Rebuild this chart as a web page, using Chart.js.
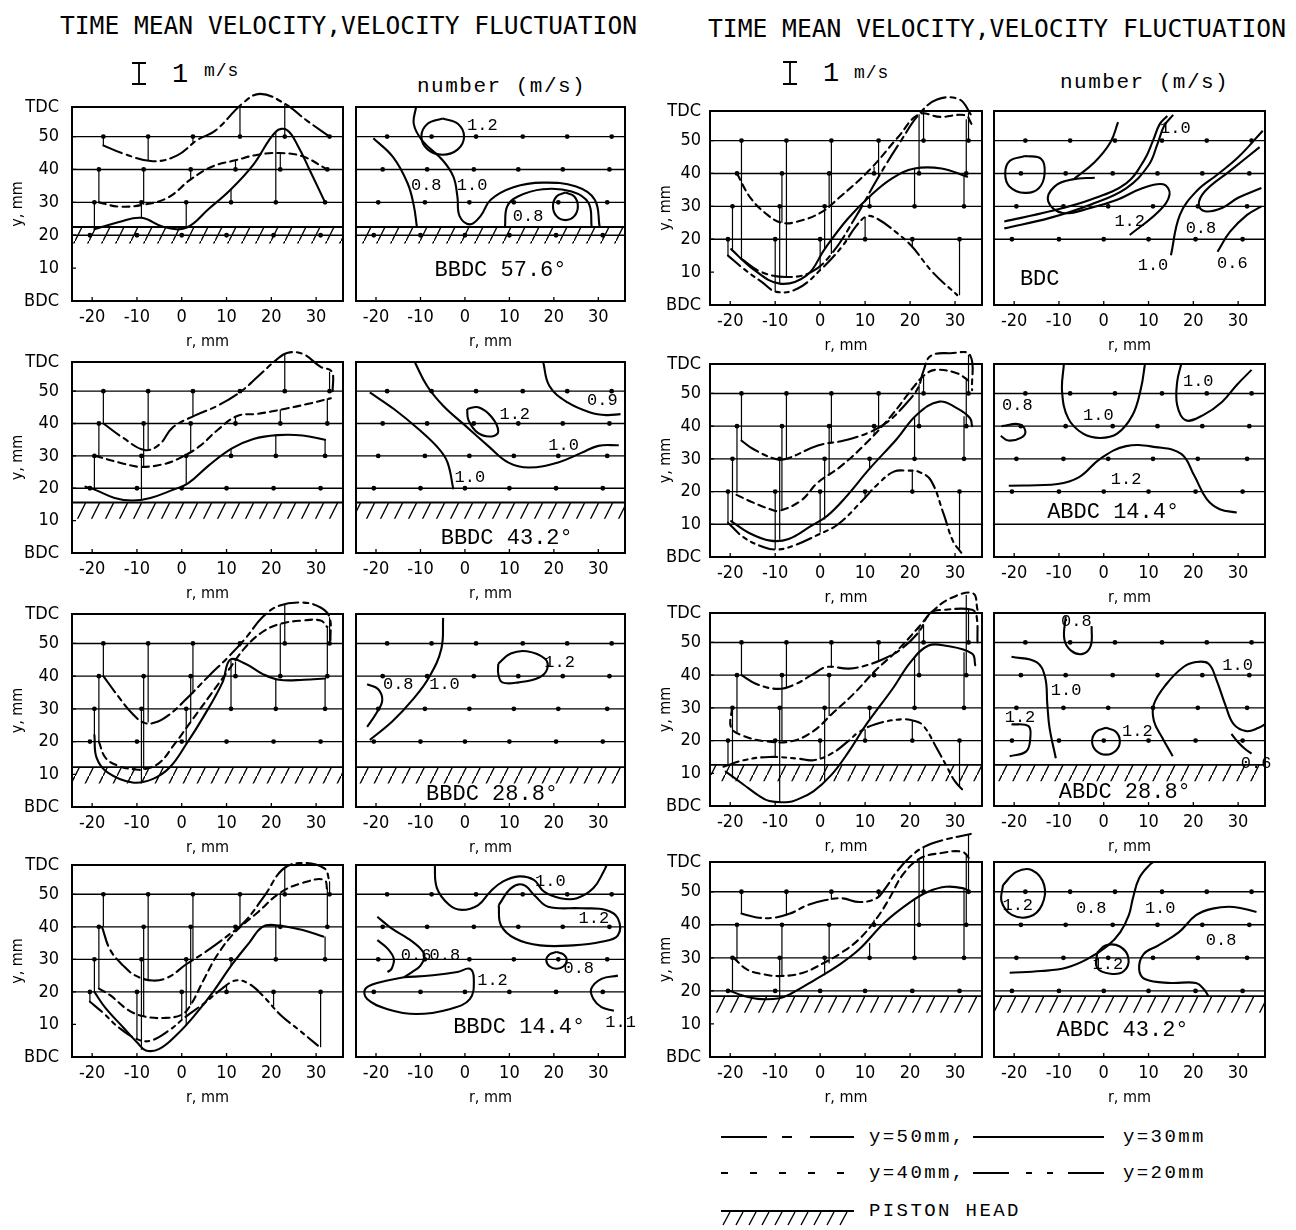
<!DOCTYPE html>
<html>
<head>
<meta charset="utf-8">
<title>Time mean velocity, velocity fluctuation</title>
<script src="https://cdn.jsdelivr.net/npm/chart.js@4.4.1/dist/chart.umd.min.js"></script>
<style>
  html, body { margin: 0; padding: 0; background: #fff; }
  #page { position: relative; width: 1296px; height: 1230px; overflow: hidden; background: #fff; color: #000;
          font-family: "Liberation Sans Narrow", "DejaVu Sans Condensed", "Liberation Sans", sans-serif; }
  .pan { position: absolute; }
  .txt { position: absolute; white-space: nowrap; line-height: 1; }
  .mono { font-family: "Liberation Mono", "DejaVu Sans Mono", monospace; }
  .head { font-family: "DejaVu Sans Mono", "Liberation Mono", monospace; font-size: 24.5px; }
  .leg { font-size: 19px; letter-spacing: 2.4px; }
  svg { position: absolute; left: 0; top: 0; }
</style>
</head>
<body>
<div id="page">
  <svg id="marks" width="1296" height="1230" stroke="#000" stroke-width="1.8" fill="none">
    <!-- 1 m/s scale bars -->
    <path d="M139 63 V84 M132 63 H146 M132 84 H146"/>
    <path d="M790 62 V84 M783 62 H797 M783 84 H797"/>
    <!-- legend samples -->
    <line x1="721" y1="1137" x2="854" y2="1137" stroke-dasharray="46 15 10 18 44 99"/>
    <line x1="973" y1="1137" x2="1104" y2="1137"/>
    <line x1="721" y1="1173" x2="854" y2="1173" stroke-dasharray="7 22"/>
    <line x1="973" y1="1173" x2="1104" y2="1173" stroke-dasharray="36 17 6 15 6 15 36"/>
    <line x1="721" y1="1211" x2="854" y2="1211"/>
    <path id="legHatch" stroke-width="1.4"/>
  </svg>

  <div class="txt head fit" data-w="577" style="left:60px;top:14px">TIME MEAN VELOCITY,VELOCITY FLUCTUATION</div>
  <div class="txt head fit" data-w="578" style="left:708px;top:17px">TIME MEAN VELOCITY,VELOCITY FLUCTUATION</div>
  <div class="txt mono" style="left:172px;top:62px;font-size:27px">1</div>
  <div class="txt mono" style="left:204px;top:62px;font-size:18px;letter-spacing:1px">m/s</div>
  <div class="txt mono" style="left:823px;top:61px;font-size:27px">1</div>
  <div class="txt mono" style="left:854px;top:64px;font-size:18px;letter-spacing:1px">m/s</div>
  <div class="txt mono" style="left:417px;top:76px;font-size:21px;letter-spacing:1.5px">number (m/s)</div>
  <div class="txt mono" style="left:1060px;top:72px;font-size:21px;letter-spacing:1.5px">number (m/s)</div>

  <div class="txt mono leg" style="left:869px;top:1128px">y=50mm,</div>
  <div class="txt mono leg" style="left:1123px;top:1128px">y=30mm</div>
  <div class="txt mono leg" style="left:869px;top:1164px">y=40mm,</div>
  <div class="txt mono leg" style="left:1123px;top:1164px">y=20mm</div>
  <div class="txt mono leg" style="left:869px;top:1202px">PISTON HEAD</div>
</div>

<script>
// axis ticks
const rTicks = [-20, -10, 0, 10, 20, 30];
const yTickVals = [0, 10, 20, 30, 40, 50, 59];
const yTickText = ['BDC', '10', '20', '30', '40', '50', 'TDC'];

// measuring points on each level (r, mm)
const r50 = [-17.5, -7.5, 2.5, 13, 23, 33];
const r40 = [-18.5, -8.5, 2, 12, 22, 32.5];
const r30 = [-19.5, -9, 1, 11, 21, 32];
const r20 = [-20.5, -10, 0, 10, 20.5, 31];

// ---- BBDC 57.6 ----
const aU50 = [[-17.5,47.3],[-13,44.8],[-6.5,42.5],[-1,44.3],[3.5,49],[7.5,51.8],[13.5,60],[17.5,63],[23,60],[28,54.8],[33,50]];
const aT50 = [47.3, 42.6, 47.8, 59.5, 60, 50];
const aU40 = [[-18.5,30],[-14,28.7],[-8.5,29.3],[-3,31.5],[2,37],[7,41],[12,42.8],[17,44.5],[22,45],[27,44],[32.5,40]];
const aT40 = [30, 29.3, 37, 42.8, 45, 40];
const aU30 = [[-19.5,21.8],[-14,24],[-9,25.3],[-4,22.5],[1,22.3],[6,28],[11,34],[16,41.5],[21,51.5],[23.5,52],[26,47],[28.5,40],[32,30]];
const aT30 = [21.8, 25.3, 22.3, 34, 51.5, 30];
const aK1 = [[-20.6,49.5],[-16.2,43.8],[-12.9,35.8],[-11.5,29],[-10.8,22.5]];
const aK2 = [[-11,59],[-11.5,53.8],[-9.6,48.8],[-5,42.8],[-2.6,37.8],[-1.7,31.8],[-1.2,25.8],[1.1,23.3],[3.5,25.8],[5.8,30.8],[10.9,34.6],[17.5,36],[25,34.8],[29.2,30.8],[30.3,22.5]];
const aK3 = [[-5,55.5],[-1.6,53.9],[-0.2,50],[-1.6,46.1],[-5,44.5],[-8.4,46.1],[-9.8,50],[-8.4,53.9],[-5,55.5]];
const aK4 = [[9,22.5],[9.5,28.8],[11.9,31.8],[17.5,34],[24,33.3],[27.8,29.8],[28.5,22.5]];
const aK5 = [[22.6,33],[24.6,31.8],[25.4,28.8],[24.6,25.8],[22.6,24.6],[20.6,25.8],[19.8,28.8],[20.6,31.8],[22.6,33]];
const aLab = [[-8.7,35,'0.8'],[1.6,35,'1.0'],[3.9,53.3,'1.2'],[14.2,25.8,'0.8']];
const aCap = [8, 9.3];

// ---- BBDC 43.2 ----
const bU50 = [[-17.5,40],[-13,35.5],[-8.3,31.8],[-5,33.5],[-2,38.8],[3,42.5],[8,45.5],[13.3,50],[17,54.5],[21,59.5],[23.5,61.8],[27,61.5],[31,57.5],[33.5,56],[33.7,50]];
const bT50 = [40, 32, 42.3, 49.8, 61.6, 56];
const bU40 = [[-19.3,30],[-13,27.6],[-9,26.6],[-3.6,27.6],[0.2,29.8],[4,33],[8,38],[12.4,42.3],[17,43],[22.9,44.5],[28,46],[33.3,47.8]];
const bT40 = [30, 26.6, 31.5, 42.2, 44.3, 47.7];
const bU30 = [[-21.5,20.5],[-19.3,19.5],[-15,17],[-11,16.2],[-7,17],[-2,19.5],[1.4,21.5],[6,27],[11.2,32.3],[16,35.2],[21.3,36.4],[27,36.3],[32,35]];
const bT30 = [19.5, 16.4, 21.3, 32.2, 36.4, 35];
const bK1 = [[-21.4,49.6],[-15.9,44.4],[-10.4,38.2],[-5.8,32.1],[-3.9,27.9],[-2.6,19.7]];
const bK2 = [[-11.3,59],[-8.5,51.6],[-4.9,45.5],[-0.3,39.8],[5.2,33.1],[9.8,27.9],[14.4,26.4],[20.8,27.9],[26.3,31],[30,33.1],[34.6,33.3]];
const bK3 = [[0.5,44.5],[3,45],[6,42],[7.5,37.5],[6,36],[3,37],[0.8,41],[0.5,44.5]];
const bK4 = [[17.6,59],[19,51.6],[23.1,46.5],[28.2,43.4],[31.8,42.6],[35,42.9]];
const bLab = [[1.1,23.3,'1.0'],[22.2,33.1,'1.0'],[11.2,42.9,'1.2'],[30.9,47,'0.9']];
const bCap = [9.4, 4.7];

// ---- BBDC 28.8 ----
const cU50 = [[-17.5,40],[-14,33.5],[-11,28.5],[-8.5,25.8],[-6,25.8],[-3,28],[1,33],[6,40],[10.5,46],[14.5,52],[18,58],[21.7,61.5],[27,62.5],[31,61],[33,58],[33.2,51]];
const cT50 = [40, 25.8, 34.7, 49, 61.8, 58];
const cU40 = [[-18.5,20],[-17,15],[-14,12.5],[-10.5,11.5],[-8.5,11.5],[-5,13.5],[-2,18.5],[2,26],[6,33.5],[10,41],[14,48.5],[18,53.5],[22,56],[27,57],[31,57],[32.5,55]];
const cT40 = [20, 11.5, 26, 44.5, 56, 55];
const cU30 = [[-19.5,22],[-19,15],[-16.5,10.5],[-11,7.5],[-6.4,8.6],[-2.6,12.2],[1.1,19.4],[4.9,27.7],[9.1,38.1],[10.8,45],[14.2,43.8],[18,40.7],[21.7,38.9],[27.3,38.9],[32,39.3]];
const cT30 = [22, 7.6, 19.2, 44.8, 39, 39.3];
const cK1 = [[-21.4,20.5],[-16.3,26.2],[-11.7,32.9],[-8.1,39.6],[-5.3,48.4],[-4.9,57.8]];
const cK2 = [[-22,37.5],[-19.5,36],[-18.6,32.5],[-20,28.5],[-22,24.5]];
const cK3 = [[7.5,43.8],[10.3,46.9],[13.9,47.6],[18,45.3],[18.5,42.2],[16.7,39.6],[12.1,38.1],[8.4,38.1],[7.5,40.7],[7.5,43.8]];
const cLab = [[-15,37.6,'0.8'],[-4.6,37.6,'1.0'],[21.3,44.3,'1.2']];
const cCap = [6.1, 3.9];

// ---- BBDC 14.4 ----
const dU50 = [[-17.8,40],[-16,33],[-13,28],[-10.3,25],[-6.5,23.5],[-3,24.5],[1,28.5],[5,32],[10,37],[14,41.5],[18.7,50],[22.4,57.5],[26.2,59.6],[31.8,58],[33,54]];
const dT50 = [40, 23.6, 29.5, 40.5, 57.8, 54];
const dU40 = [[-18.5,21],[-16,19],[-12,14.5],[-8.5,12.5],[-4,12],[0,13],[2,16],[5,24],[8,31.5],[12,38.5],[17,44.5],[22,50.5],[27,53.5],[31.8,54.4],[32.5,50.5]];
const dT40 = [21, 12.5, 16, 38.5, 50.5, 52];
const dU30 = [[-19.5,20],[-17,15],[-13,9],[-10,4.5],[-8,2],[-5,2.5],[-1,7],[3,13],[7,20],[11,28],[15,35],[18,40],[21,40.5],[27,39],[31.6,37]];
const dT30 = [20, 2.2, 9.5, 28, 40.5, 37];
const dU20 = [[-20.5,17],[-17.5,13.5],[-14,9],[-10,5.5],[-7,5],[-3,8],[1,12.5],[5,16.5],[9,21],[12,23.5],[15,22.5],[18,19],[22,13],[26,8.5],[30.4,3.5]];
const dT20 = [17, 5.5, 11.5, 22, 15.5, 3];
const dK1 = [[-6.8,59.6],[-6.3,51.9],[-3.5,46.7],[-0.7,45.2],[3,46.7],[5.7,50.8],[8.5,53.9],[12.2,55.5],[15.5,54.4],[17.8,50.8],[21.5,48.8],[25.2,48.8],[28.9,51.9],[31.2,57],[32.1,59.6]];
const dK2 = [[7.6,46.7],[10.4,51.9],[13.1,52.9],[15.9,49.3],[18.7,46.2],[26.1,45.7],[31.7,45.2],[34.4,42.6],[34.4,37.4],[30.7,35.4],[24.3,34.3],[16.9,34.3],[11.3,36.4],[8.1,40.5],[7.6,46.7]];
const dK3 = [[20.6,32.3],[22.2,31.5],[22.9,29.7],[22.2,27.9],[20.6,27.1],[19,27.9],[18.3,29.7],[19,31.5],[20.6,32.3]];
const dK4 = [[-19.7,43.1],[-16.5,39.5],[-12.8,36.4],[-10,33.3],[-9.1,31.2],[-10,28.1],[-11.9,26.1],[-13.7,24.5]];
const dK5 = [[-19.7,35.9],[-17.4,33.3],[-16,30.2],[-16.5,27.1],[-17.4,26.1]];
const dK6 = [[-13.7,24.5],[-7.2,25.1],[-1.7,26.1],[1.1,27.1],[2,24],[1.1,17.8],[-3.5,14.7],[-10.9,13.2],[-17.4,14.7],[-22,17.8],[-22.4,20.9],[-19.3,22.9],[-13.7,24.5]];
const dK7 = [[34.4,25],[30.7,24],[28.4,20.9],[28.9,17.8],[30.7,15.3],[33.5,14.2]];
const dLab = [[19.2,53.9,'1.0'],[29,42.6,'1.2'],[25.6,27.1,'0.8'],[-11,31.2,'0.6'],[-4.5,31.2,'0.8'],[6.2,23.5,'1.2'],[35,10.6,'1.1']];
const dCap = [12.2, 9.1];

// ---- BDC ----
const eU50 = [[-17.5,14],[-13,10],[-7.5,8.5],[-2,10],[2.5,15.5],[8,27],[13,39],[18,50],[22,58],[26,62.5],[31,62.5],[33.5,58]];
const eT50 = [14, 8.5, 15.5, 39, 59.5, 58.5];
const eU40 = [[-18.5,40],[-15.5,32.6],[-11.7,27.4],[-8.5,25],[-5,25.4],[0,28],[4.2,32.6],[10.8,40.8],[17.3,51],[22,58],[26.7,57.2],[32.3,57.7],[33.7,55]];
const eT40 = [40, 25, 29.5, 42, 58, 56.5];
const eU30 = [[-19.8,17],[-15,11],[-9,6.5],[-3,9],[1,17],[6,26],[11,33],[16,38.5],[21,41.5],[27,41.5],[32.7,39]];
const eT30 = [17, 6.5, 17, 33, 41.5, 39.2];
const eU20 = [[-20.5,15],[-17,11],[-13,7],[-9.7,4],[-5,5],[0.3,11],[5,18],[8,24],[10.5,27],[13,26],[17,22],[20.3,18],[25,10],[30.5,3]];
const eT20 = [15, 4, 10.7, 26.8, 17.5, 3];
const eK1 = [[-17.6,45.3],[-14,44.5],[-13.2,40],[-14.5,35.5],[-17.6,34.1],[-21,36],[-22,40],[-21,43.8],[-17.6,45.3]];
const eK2 = [[-6.5,38.5],[-2,43.5],[1.5,49.5],[3.2,55.6]];
const eK3 = [[-22.2,25.4],[-12,28.5],[-3,32],[5,37],[9,44],[11,50],[12.5,55],[14.2,57.5]];
const eK4 = [[-22.2,23.3],[-12,26.5],[-3,30.5],[5,35.5],[10,42.5],[12,49],[13.5,54.5],[15.5,57.8]];
const eK5 = [[5.8,21.3],[12.3,28.5],[14.7,33.6],[13.3,36.7],[8.6,35.5],[3,32],[-3,29.5],[-9.2,28],[-12.4,31.5],[-11,36],[-7,38.2],[-2,38.7]];
const eK6 = [[15,15.1],[17,27.4],[20.7,34.6],[25.4,39.7],[30,44.9],[35.5,53]];
const eK7 = [[34.8,48],[28.2,40.8],[22.6,34.6],[21.2,30.5],[22.6,28.5],[26.4,29.5],[30,32.6],[35.2,35.6]];
const eK8 = [[25.4,16.2],[28.2,22.3],[32,27.4],[35.2,30]];
const eLab = [[16,53.6,'1.0'],[5.8,25.4,'1.2'],[21.7,23.3,'0.8'],[11,12,'1.0'],[28.7,12.6,'0.6']];
const eCap = [-14.3, 8];

// ---- ABDC 14.4 ----
const fU50 = [[-17.5,35.6],[-15,33.1],[-10.1,30],[-7.5,30],[-0.5,34.1],[5.3,35.6],[11.1,38.2],[15,41.3],[18.8,46.4],[21.7,51.5],[23,57],[24.6,61.5],[29,62.3],[33.3,61.8],[33.8,51]];
const fT50 = [35.6, 30, 35, 39.5, 55, 61.8];
const fU40 = [[-18.6,19],[-15,16.7],[-11.1,14.6],[-9.2,14.1],[-4.3,17.2],[-0.5,22.8],[4.3,27.4],[10.1,34.6],[15.9,43.3],[20.8,52],[23.2,55.6],[25.6,57.2],[30.4,56.2],[33.3,53.6]];
const fT40 = [19.5, 14.2, 25, 37, 53, 54.5];
const fU30 = [[-19.8,11],[-16,7.5],[-11.1,5],[-7,5.5],[-2,9.5],[1.5,12.5],[5.5,18],[11,27],[17,36],[21.5,43.5],[26.5,47.5],[30.4,45.5],[33.3,42.5],[33.8,40]];
const fT30 = [11, 5.3, 11.5, 27, 43, 43];
const fU20 = [[-20.5,10.5],[-17,6],[-12.5,3],[-9.2,2.3],[-5.3,3.8],[-0.5,6.8],[4,10],[9.2,17],[13,22.5],[16.4,26.1],[19.3,26.4],[22,26],[24.6,23.5],[27.5,13],[29.5,5],[31.4,1.3]];
const fT20 = [10.5, 2.3, 7.5, 17.8, 26.2, 2.5];
const fK1 = [[-22.8,40],[-18.9,40.6],[-17.5,38.5],[-18.4,36.5],[-21.3,35.6],[-23,37]];
const fK2 = [[-8.9,59],[-9.3,50.5],[-7.9,42.3],[-4.6,37.7],[-0.8,36.4],[3,37.7],[6.4,43.3],[8.3,51.5],[9.2,59]];
const fK3 = [[17.3,59],[16.4,53.6],[16.4,46.4],[18.3,41.8],[22.1,43.3],[26.4,47.4],[29.7,52.6],[33,57.2]];
const fK4 = [[-21.2,21.8],[-10.3,22.3],[-5.5,24.4],[-0.8,30],[5,33.9],[11.6,33.6],[17.3,31.5],[20.2,24.9],[23,17.7],[25.9,14.6],[29.7,13.6]];
const fLab = [[-19.3,46.4,'0.8'],[-1.2,43.3,'1.0'],[21.1,53.6,'1.0'],[5,23.8,'1.2']];
const fCap = [2.1, 13.6];

// ---- ABDC 28.8 ----
const gU50 = [[-17.5,40],[-14.2,37.3],[-9.3,35.8],[-5.4,37.3],[-1.5,40.4],[1.5,42.5],[6.4,42],[10.3,43],[14.2,45],[18,48],[22,53.3],[24.5,59],[27.9,60],[33.8,60],[34.8,58],[35,50]];
const gT50 = [40, 36, 42.3, 44.6, 55.5, 60];
const gU40 = [[-19.6,30],[-19.8,24],[-17.2,21.5],[-12.3,19.8],[-6.4,19.8],[-1.5,22.9],[2.5,28],[7.4,34.2],[12.3,41.4],[17.2,47.6],[22,54.8],[25,59.5],[29,63.5],[34,65],[35,60]];
const gT40 = [22.5, 20, 27.5, 41, 54.8, 64.5];
const gU30 = [[-21,10.5],[-17,6.5],[-14,3.5],[-11.3,1.5],[-7,1.2],[-5.4,1.8],[-1.5,4.5],[2.5,9.5],[6.4,16.7],[10.3,25],[16.2,36],[20.1,44],[24,49],[27.9,49],[33.8,46.6],[34.5,43]];
const gT30 = [8.5, 1.3, 7.5, 26, 45.5, 47];
const gU20 = [[-21.5,12],[-17,14],[-11.3,15],[-5,14.5],[-1.5,14],[2.5,16],[6.4,20],[8.5,22.5],[12.3,25],[18,26.5],[21,26],[23,24.5],[26,17.5],[28,12.5],[30,7.5],[32,4.5]];
const gT20 = [12.8, 15, 14.5, 23.5, 26.2, 5.8];
const gK1 = [[-8.5,58],[-8.8,51],[-7.3,47.5],[-4.7,46.5],[-2.9,49],[-2.7,55]];
const gK2 = [[-20.6,45.6],[-15,44],[-13.1,39.4],[-12.6,31.1],[-12.1,23.9],[-10.7,14.6]];
const gK3 = [[-20.6,25],[-16.8,24.4],[-16.4,20.8],[-17.3,16.7],[-21,15.2]];
const gK4 = [[0.5,23.9],[2.7,22.7],[3.6,19.8],[2.7,16.9],[0.5,15.7],[-1.7,16.9],[-2.6,19.8],[-1.7,22.7],[0.5,23.9]];
const gK5 = [[15.4,15.2],[13.1,20.8],[11.2,26],[11.2,31.1],[14,37.3],[17.8,42.5],[20.6,44],[23.4,43.5],[25.2,38.4],[27.1,31.1],[29,25],[31.8,22.9],[34.6,23.9],[36,25]];
const gK6 = [[28.5,22],[30,19.5],[31.5,17.5],[33,16]];
const gLab = [[-6.1,56.4,'0.8'],[-8.4,35.3,'1.0'],[-18.7,27.2,'1.2'],[7.5,22.9,'1.2'],[29.9,43,'1.0'],[34,13,'0.6']];
const gCap = [4.7, 4.3];

// ---- ABDC 43.2 ----
const hU50 = [[-17.5,43.4],[-14.4,42.3],[-10.6,42.1],[-6.7,43.4],[-2.9,45.9],[1,47.4],[4.8,48],[8.7,46.9],[12.5,48],[14.5,51],[17,56],[20,60.5],[23,63.5],[27,65.5],[33.5,67.5]];
const hT50 = [43.4, 42.9, 47.6, 48.5, 63.5, 67.4];
const hU40 = [[-19.2,30],[-16.3,26.5],[-12.5,25],[-8.7,24.5],[-3.8,25.5],[1,28.6],[4.8,31.6],[8.7,35.7],[12.5,41.8],[15.4,48],[18.3,55],[22.1,60],[26.9,61.7],[31.7,62],[33.7,59]];
const hT40 = [29.5, 24.5, 28.3, 41.5, 60, 61.5];
const hU30 = [[-20,20],[-17,18.5],[-13,17.5],[-9,17.8],[-6.7,19],[-1,23.5],[3.8,27.5],[8.7,32.6],[14.4,40.8],[20.2,47],[24,50],[28,51.5],[32,51],[33.3,50]];
const hT30 = [20, 17.8, 24.7, 34.5, 47.6, 51];
const hK1 = [[-22.5,52],[-19.5,56],[-16,56.5],[-13.3,52],[-13.8,46],[-16.5,42.5],[-20.5,43],[-22.8,47],[-22.5,52]];
const hK2 = [[-21,25.5],[-14,26],[-8.4,27],[-3.7,29.6],[0.9,33.7],[3.7,37.8],[5.6,42.9],[6.5,48],[7.9,54.1],[10.3,58.2],[11.7,59.5]];
const hK3 = [[-1.5,31.5],[0.5,33.8],[3.5,33.5],[5.5,30],[4.5,26],[1.5,25.2],[-1.5,27],[-1.5,31.5]];
const hK4 = [[34.1,43.9],[29,45.4],[24.3,44.9],[20.6,42.9],[16.8,37.8],[12.1,33.7],[8.9,31.1],[7.9,26.5],[9.3,23.5],[15,22.4],[20.6,22.4],[22.4,20.4],[23.4,18.4]];
const hLab = [[-19.2,45.9,'1.2'],[-2.8,44.9,'0.8'],[12.6,44.9,'1.0'],[26.2,35.2,'0.8'],[0.9,28,'1.2']];
const hCap = [4.2, 8.2];

// the eight crank angles: left column top to bottom, then right column
const cases = [
  {cap: 'BBDC 57.6°', capAt: aCap, piston: 22.5, extra: [], U: {50: aU50, 40: aU40, 30: aU30}, T: {50: aT50, 40: aT40, 30: aT30}, K: [aK1, aK2, aK3, aK4, aK5], lab: aLab},
  {cap: 'BBDC 43.2°', capAt: bCap, piston: 15.6, extra: [], U: {50: bU50, 40: bU40, 30: bU30}, T: {50: bT50, 40: bT40, 30: bT30}, K: [bK1, bK2, bK3, bK4], lab: bLab},
  {cap: 'BBDC 28.8°', capAt: cCap, piston: 12.2, extra: [], U: {50: cU50, 40: cU40, 30: cU30}, T: {50: cT50, 40: cT40, 30: cT30}, K: [cK1, cK2, cK3], lab: cLab},
  {cap: 'BBDC 14.4°', capAt: dCap, piston: null, extra: [], U: {50: dU50, 40: dU40, 30: dU30, 20: dU20}, T: {50: dT50, 40: dT40, 30: dT30, 20: dT20}, K: [dK1, dK2, dK3, dK4, dK5, dK6, dK7], lab: dLab},
  {cap: 'BDC', capAt: eCap, piston: null, extra: [], U: {50: eU50, 40: eU40, 30: eU30, 20: eU20}, T: {50: eT50, 40: eT40, 30: eT30, 20: eT20}, K: [eK1, eK2, eK3, eK4, eK5, eK6, eK7, eK8], lab: eLab},
  {cap: 'ABDC 14.4°', capAt: fCap, piston: null, extra: [10], U: {50: fU50, 40: fU40, 30: fU30, 20: fU20}, T: {50: fT50, 40: fT40, 30: fT30, 20: fT20}, K: [fK1, fK2, fK3, fK4], lab: fLab},
  {cap: 'ABDC 28.8°', capAt: gCap, piston: 12.6, extra: [], U: {50: gU50, 40: gU40, 30: gU30, 20: gU20}, T: {50: gT50, 40: gT40, 30: gT30, 20: gT20}, K: [gK1, gK2, gK3, gK4, gK5, gK6], lab: gLab},
  {cap: 'ABDC 43.2°', capAt: hCap, piston: 18.4, extra: [], U: {50: hU50, 40: hU40, 30: hU30}, T: {50: hT50, 40: hT40, 30: hT30}, K: [hK1, hK2, hK3, hK4], lab: hLab}
];

Chart.defaults.font.family = '"Liberation Sans Narrow", "DejaVu Sans Condensed", "Liberation Sans", sans-serif';
Chart.defaults.color = '#000';
const MONO = '"Liberation Mono", "DejaVu Sans Mono", monospace';

const XMIN = -24.5, XMAX = 36, YMAX = 59;
const PT = 34, PR = 12, XH = 56;
const colBox = [[72, 343, 356, 625], [710, 982, 994, 1265]];
const rowBox = [
  [[107, 301], [362, 553], [614, 807], [865, 1057]],
  [[111, 305], [364, 557], [613, 806], [862, 1057]]
];
const dots = {50: r50, 40: r40, 30: r30, 20: r20};
const dash = {50: [20, 5, 5, 5], 40: [7, 5], 30: [], 20: [16, 5, 4, 5, 4, 5]};

// piston head hatching
function makeHatch() {
  const c = document.createElement('canvas');
  c.width = 14; c.height = 28;
  const g = c.getContext('2d');
  g.strokeStyle = '#000';
  g.lineWidth = 1.4;
  g.beginPath(); g.moveTo(-1, 30); g.lineTo(15, -2); g.stroke();
  return g.createPattern(c, 'repeat');
}
const hatch = makeHatch();

function pts(arr) { return arr.map(p => ({x: p[0], y: p[1]})); }

function levelLine(L, rs) {
  const data = [{x: XMIN, y: L}];
  rs.forEach(r => data.push({x: r, y: L}));
  data.push({x: XMAX, y: L});
  const last = data.length - 1;
  return {data, borderColor: '#000', borderWidth: 1.4, tension: 0,
    pointRadius: c => (c.dataIndex === 0 || c.dataIndex === last) ? 0 : 2.4,
    pointBackgroundColor: '#000', pointBorderWidth: 0};
}

function pistonSet(p) {
  return {data: [{x: XMIN, y: p}, {x: XMAX, y: p}], borderColor: '#000', borderWidth: 1.8,
    pointRadius: 0, tension: 0, fill: {value: p - 5}, backgroundColor: hatch};
}

function barSet(L, tips) {
  const data = [];
  dots[L].forEach((r, i) => {
    if (tips[i] !== L) data.push({x: r, y: L}, {x: r, y: tips[i]}, {x: r, y: null});
  });
  return {data, borderColor: '#000', borderWidth: 1.2, pointRadius: 0, tension: 0, spanGaps: false, clip: false};
}

function curveSet(arr, L) {
  return {data: pts(arr), borderColor: '#000', borderWidth: 2.1, borderDash: dash[L], pointRadius: 0,
    tension: 0.4, clip: false, borderCapStyle: 'round'};
}

function contourSet(arr) {
  return {data: pts(arr), borderColor: '#000', borderWidth: 2.1, pointRadius: 0, tension: 0.4};
}

function framePlugin(vel) {
  return {
    id: 'frame',
    afterDatasetsDraw(chart) {
      const a = chart.chartArea, c = chart.ctx, xs = chart.scales.x, ys = chart.scales.y;
      c.save();
      c.strokeStyle = '#000';
      c.setLineDash([]);
      c.lineWidth = 2;
      c.strokeRect(a.left, a.top, a.right - a.left, a.bottom - a.top);
      c.lineWidth = 1.3;
      c.beginPath();
      rTicks.forEach(v => { const x = xs.getPixelForValue(v); c.moveTo(x, a.bottom); c.lineTo(x, a.bottom - 4); });
      if (vel) yTickVals.slice(1, -1).forEach(v => { const y = ys.getPixelForValue(v); c.moveTo(a.left, y); c.lineTo(a.left + 4, y); });
      c.stroke();
      c.restore();
    }
  };
}

function notesPlugin(items, caption) {
  return {
    id: 'notes',
    afterDatasetsDraw(chart) {
      const c = chart.ctx, xs = chart.scales.x, ys = chart.scales.y;
      c.save();
      c.fillStyle = '#000';
      c.textAlign = 'center';
      c.textBaseline = 'middle';
      c.font = '17px ' + MONO;
      items.forEach(it => c.fillText(it[2], xs.getPixelForValue(it[0]), ys.getPixelForValue(it[1])));
      if (caption) {
        c.font = '22px ' + MONO;
        c.fillText(caption[2], xs.getPixelForValue(caption[0]), ys.getPixelForValue(caption[1]));
      }
      c.restore();
    }
  };
}

const page = document.getElementById('page');

function addPanel(i, vel) {
  const cs = cases[i];
  const col = i < 4 ? 0 : 1, row = i % 4;
  const cb = colBox[col], rb = rowBox[col][row];
  const bl = vel ? cb[0] : cb[2], br = vel ? cb[1] : cb[3];
  const yw = vel ? (col === 0 ? 67 : 55) : 0;
  const pl = vel ? 0 : 6;
  const W = br - bl + yw + pl + PR, H = rb[1] - rb[0] + PT + XH;

  const holder = document.createElement('div');
  holder.className = 'pan';
  holder.style.left = (bl - yw - pl) + 'px';
  holder.style.top = (rb[0] - PT) + 'px';
  const cv = document.createElement('canvas');
  cv.width = W; cv.height = H;
  cv.style.width = W + 'px'; cv.style.height = H + 'px';
  holder.appendChild(cv);
  page.appendChild(holder);

  const ds = [];
  [50, 40, 30, 20].forEach(L => ds.push(levelLine(L, dots[L])));
  cs.extra.forEach(L => ds.push(levelLine(L, [])));
  if (cs.piston) ds.push(pistonSet(cs.piston));
  if (vel) {
    Object.keys(cs.U).forEach(k => {
      const L = Number(k);
      ds.push(barSet(L, cs.T[L]));
      ds.push(curveSet(cs.U[L], L));
    });
  } else {
    cs.K.forEach(k => ds.push(contourSet(k)));
  }

  new Chart(cv, {
    type: 'line',
    data: {datasets: ds},
    options: {
      responsive: false,
      animation: false,
      events: [],
      layout: {padding: {top: PT, right: PR, left: pl, bottom: 0}},
      plugins: {legend: {display: false}, tooltip: {enabled: false}},
      scales: {
        x: {
          type: 'linear', min: XMIN, max: XMAX,
          afterBuildTicks: s => { s.ticks = rTicks.map(v => ({value: v})); },
          afterFit: s => { s.height = XH; },
          grid: {display: false, drawTicks: false},
          border: {display: false},
          ticks: {color: '#000', padding: 6, font: {size: 18}, maxRotation: 0, autoSkip: false, callback: v => String(v)},
          title: {display: true, text: 'r, mm', color: '#000', font: {size: 16}, padding: {top: 0, bottom: 6}}
        },
        y: {
          type: 'linear', min: 0, max: YMAX, display: vel,
          afterBuildTicks: s => { s.ticks = yTickVals.map(v => ({value: v})); },
          afterFit: s => { s.width = yw; },
          grid: {display: false, drawTicks: false},
          border: {display: false},
          ticks: {color: '#000', padding: col === 0 ? 13 : 9, font: {size: 18}, autoSkip: false, callback: (v, idx) => yTickText[idx]},
          title: {display: true, text: 'y, mm', color: '#000', font: {size: 16}, padding: {top: col === 0 ? 3 : 1, bottom: 0}}
        }
      }
    },
    plugins: [framePlugin(vel), notesPlugin(vel ? [] : cs.lab, vel ? null : [cs.capAt[0], cs.capAt[1], cs.cap])]
  });
}

for (let i = 0; i < cases.length; i++) {
  addPanel(i, true);
  addPanel(i, false);
}

// legend hatch strokes
let hd = '';
for (let x = 723; x < 850; x += 13) hd += 'M' + x + ' 1225 L' + (x + 7) + ' 1212 ';
document.getElementById('legHatch').setAttribute('d', hd);

// squeeze the two headings to their printed width
document.querySelectorAll('.fit').forEach(el => {
  const w = el.getBoundingClientRect().width;
  el.style.transformOrigin = '0 0';
  el.style.transform = 'scaleX(' + (parseFloat(el.dataset.w) / w) + ')';
});
</script>
</body>
</html>
